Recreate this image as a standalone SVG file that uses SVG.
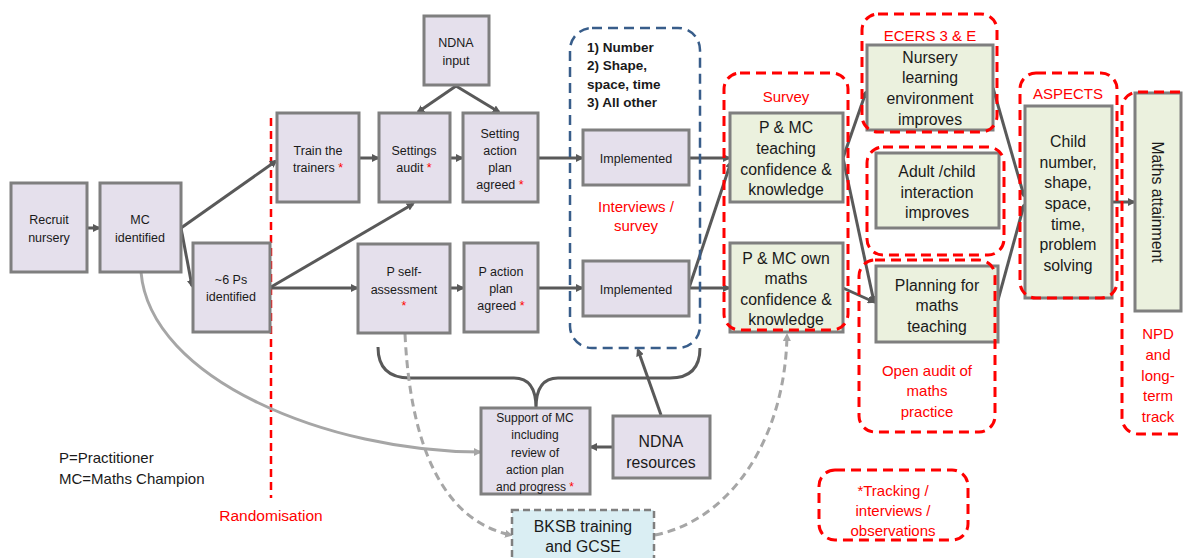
<svg xmlns="http://www.w3.org/2000/svg" width="1183" height="558" viewBox="0 0 1183 558">
<style>
.p{fill:#E5E0EC;stroke:#7F7F7F;stroke-width:3}
.g{fill:#EBF1DE;stroke:#7F7F7F;stroke-width:3}
.b{fill:#DAEEF3;stroke:#7F7F7F;stroke-width:2.5;stroke-dasharray:7 4}
text{font-family:"Liberation Sans",Arial,sans-serif;fill:#1a1a1a;text-anchor:middle}
.s{font-size:12.5px}
.m{font-size:15.8px}
.r{fill:#FF0000}
.rt{fill:#FF0000;font-size:15px}
.rd{fill:none;stroke:#FF0000;stroke-width:3;stroke-dasharray:10 6}
.bd{fill:none;stroke:#385D8A;stroke-width:2.5;stroke-dasharray:10 6}
.c{fill:none;stroke:#595959;stroke-width:3}
.lc{fill:none;stroke:#A6A6A6;stroke-width:3}
.dc{fill:none;stroke:#A6A6A6;stroke-width:3;stroke-dasharray:8 5}
.bold{font-weight:bold;text-anchor:start;font-size:13.5px}
</style>
<defs>
<marker id="a" markerWidth="8" markerHeight="8" refX="6" refY="4" orient="auto" markerUnits="userSpaceOnUse"><path d="M0,0 L8,4 L0,8 z" fill="#595959"/></marker>
<marker id="al" markerWidth="8" markerHeight="8" refX="6" refY="4" orient="auto" markerUnits="userSpaceOnUse"><path d="M0,0 L8,4 L0,8 z" fill="#A6A6A6"/></marker>
</defs>
<rect width="1183" height="558" fill="#fff"/>

<g id="randomisation">
<line x1="271" y1="118" x2="271" y2="498" stroke="#FF0000" stroke-width="2.5" stroke-dasharray="8 5"/>
<text x="271" y="521" class="rt" style="font-size:15.5px">Randomisation</text>
</g>

<g id="connectors">
<line class="c" x1="87" y1="228" x2="99" y2="228" marker-end="url(#a)"/>
<line class="c" x1="181" y1="228" x2="276" y2="161" marker-end="url(#a)"/>
<line class="c" x1="181" y1="228" x2="192" y2="286" marker-end="url(#a)"/>
<line class="c" x1="271" y1="287" x2="413" y2="204" marker-end="url(#a)"/>
<line class="c" x1="271" y1="288" x2="357" y2="288" marker-end="url(#a)"/>
<line class="c" x1="359" y1="158" x2="378" y2="158" marker-end="url(#a)"/>
<line class="c" x1="450" y1="158" x2="462" y2="158" marker-end="url(#a)"/>
<line class="c" x1="456" y1="86" x2="418" y2="112" marker-end="url(#a)"/>
<line class="c" x1="456" y1="86" x2="499" y2="112" marker-end="url(#a)"/>
<line class="c" x1="538" y1="158" x2="582" y2="158" marker-end="url(#a)"/>
<line class="c" x1="450" y1="288" x2="463" y2="288" marker-end="url(#a)"/>
<line class="c" x1="538" y1="288" x2="582" y2="288" marker-end="url(#a)"/>
<line class="c" x1="689" y1="158" x2="729" y2="158" marker-end="url(#a)"/>
<line class="c" x1="689" y1="288" x2="731" y2="162" marker-end="url(#a)"/>
<line class="c" x1="689" y1="288" x2="729" y2="288" marker-end="url(#a)"/>
<line class="c" x1="843" y1="158" x2="866" y2="92" marker-end="url(#a)"/>
<line class="c" x1="843" y1="158" x2="874" y2="302" marker-end="url(#a)"/>
<line class="c" x1="843" y1="288" x2="874" y2="302" marker-end="url(#a)"/>
<line class="c" x1="993" y1="88" x2="1024" y2="196" marker-end="url(#a)"/>
<line class="c" x1="998" y1="300" x2="1024" y2="205" marker-end="url(#a)"/>
<line class="c" x1="1112" y1="202" x2="1134" y2="202" marker-end="url(#a)"/>
<line class="c" x1="613" y1="447" x2="591" y2="447" marker-end="url(#a)"/>
<line class="c" x1="661" y1="415" x2="638" y2="350" marker-end="url(#a)"/>
<path class="c" stroke="#7F7F7F" d="M378,347 Q378,378 410,378 L514,378 Q536,378 536,408 M700,348 Q700,378 670,378 L558,378 Q536,378 536,408"/>
<path class="lc" d="M141,272 C150,380 330,452 480,452" marker-end="url(#al)"/>
<path class="dc" d="M405,334 C410,440 440,520 511,535" marker-end="url(#al)"/>
<path class="dc" d="M655,535 C730,520 785,440 787,335" marker-end="url(#al)"/>
</g>

<g id="recruit"><rect class="p" x="11" y="183" width="76" height="89"/><text class="s" x="49" y="224">Recruit</text><text class="s" x="49" y="242">nursery</text></g>
<g id="mc"><rect class="p" x="100" y="183" width="81" height="89"/><text class="s" x="140" y="224">MC</text><text class="s" x="140" y="242">identified</text></g>
<g id="ps"><rect class="p" x="193" y="243" width="77" height="89"/><text class="s" x="231" y="284">~6 Ps</text><text class="s" x="231" y="301">identified</text></g>
<g id="train"><rect class="p" x="277" y="113" width="82" height="89"/><text class="s" x="318" y="155">Train the</text><text class="s" x="318" y="172">trainers <tspan class="r">*</tspan></text></g>
<g id="audit"><rect class="p" x="379" y="113" width="71" height="89"/><text class="s" x="414" y="155">Settings</text><text class="s" x="414" y="172">audit <tspan class="r">*</tspan></text></g>
<g id="splan"><rect class="p" x="463" y="113" width="75" height="89"/><text class="s" x="500" y="138">Setting</text><text class="s" x="500" y="155">action</text><text class="s" x="500" y="172">plan</text><text class="s" x="500" y="189">agreed <tspan class="r">*</tspan></text></g>
<g id="ndnainput"><rect class="p" x="424" y="16" width="65" height="69"/><text class="s" x="456" y="47">NDNA</text><text class="s" x="456" y="65">input</text></g>
<g id="pself"><rect class="p" x="358" y="244" width="92" height="89"/><text class="s" x="404" y="276">P self-</text><text class="s" x="404" y="294">assessment</text><text class="s r" x="404" y="310">*</text></g>
<g id="paction"><rect class="p" x="464" y="243" width="74" height="89"/><text class="s" x="501" y="276">P action</text><text class="s" x="501" y="293">plan</text><text class="s" x="501" y="310">agreed <tspan class="r">*</tspan></text></g>
<g id="impl1"><rect class="p" x="583" y="130" width="106" height="55"/><text class="s" x="636" y="163">Implemented</text></g>
<g id="impl2"><rect class="p" x="583" y="261" width="106" height="55"/><text class="s" x="636" y="294">Implemented</text></g>
<g id="support"><rect class="p" x="481" y="408" width="109" height="86"/><text class="s" x="535" y="422" style="font-size:12px">Support of MC</text><text class="s" x="535" y="439" style="font-size:12px">including</text><text class="s" x="535" y="457" style="font-size:12px">review of</text><text class="s" x="535" y="474" style="font-size:12px">action plan</text><text class="s" x="535" y="491" style="font-size:12px">and progress <tspan class="r">*</tspan></text></g>
<g id="ndnares"><rect class="p" x="613" y="416" width="97" height="62"/><text class="m" x="661" y="447">NDNA</text><text class="m" x="661" y="468">resources</text></g>
<g id="bksb"><rect class="b" x="512" y="510" width="142" height="52"/><text class="m" x="583" y="532">BKSB training</text><text class="m" x="583" y="552">and GCSE</text></g>

<g id="teach"><rect class="g" x="730" y="113" width="113" height="89"/><text class="m" x="786" y="133">P &amp; MC</text><text class="m" x="786" y="154">teaching</text><text class="m" x="786" y="175">confidence &amp;</text><text class="m" x="786" y="195">knowledge</text></g>
<g id="own"><rect class="g" x="730" y="243" width="113" height="89"/><text class="m" x="786" y="264">P &amp; MC own</text><text class="m" x="786" y="284">maths</text><text class="m" x="786" y="305">confidence &amp;</text><text class="m" x="786" y="325">knowledge</text></g>
<g id="nursery"><rect class="g" x="867" y="45" width="126" height="85"/><text class="m" x="930" y="63">Nursery</text><text class="m" x="930" y="83">learning</text><text class="m" x="930" y="104">environment</text><text class="m" x="930" y="125">improves</text></g>
<g id="adult"><rect class="g" x="876" y="153" width="123" height="75"/><text class="m" x="937" y="177">Adult /child</text><text class="m" x="937" y="198">interaction</text><text class="m" x="937" y="218">improves</text></g>
<g id="planning"><rect class="g" x="876" y="266" width="122" height="76"/><text class="m" x="937" y="291">Planning for</text><text class="m" x="937" y="311">maths</text><text class="m" x="937" y="332">teaching</text></g>
<g id="child"><rect class="g" x="1025" y="106" width="87" height="192"/><text class="m" x="1068" y="147">Child</text><text class="m" x="1068" y="168">number,</text><text class="m" x="1068" y="188">shape,</text><text class="m" x="1068" y="209">space,</text><text class="m" x="1068" y="230">time,</text><text class="m" x="1068" y="250">problem</text><text class="m" x="1068" y="271">solving</text></g>
<g id="attain"><rect class="g" x="1135" y="93" width="46" height="218"/><text class="m" transform="translate(1152,202) rotate(90)" x="0" y="0">Maths attainment</text></g>

<g id="groups">
<rect class="bd" x="570" y="28" width="130" height="320" rx="22"/>
<text class="bold" x="587" y="52">1) Number</text>
<text class="bold" x="587" y="70">2) Shape,</text>
<text class="bold" x="587" y="89">space, time</text>
<text class="bold" x="587" y="107">3) All other</text>
<text class="rt" x="636" y="212">Interviews /</text>
<text class="rt" x="636" y="231">survey</text>
<rect class="rd" x="724" y="73" width="124" height="257" rx="16"/>
<text class="rt" x="786" y="102">Survey</text>
<rect class="rd" x="862" y="14" width="135" height="118" rx="16"/>
<text class="rt" x="930" y="41">ECERS 3 &amp; E</text>
<rect class="rd" x="867" y="147" width="137" height="108" rx="16"/>
<rect class="rd" x="859" y="260" width="136" height="172" rx="16"/>
<text class="rt" x="927" y="376">Open audit of</text>
<text class="rt" x="927" y="396">maths</text>
<text class="rt" x="927" y="417">practice</text>
<rect class="rd" x="1020" y="73" width="97" height="225" rx="16"/>
<text class="rt" x="1068" y="99">ASPECTS</text>
<rect class="rd" x="1122" y="92" width="80" height="342" rx="16"/>
<text class="rt" x="1158" y="339">NPD</text>
<text class="rt" x="1158" y="360">and</text>
<text class="rt" x="1158" y="381">long-</text>
<text class="rt" x="1158" y="401">term</text>
<text class="rt" x="1158" y="422">track</text>
<rect class="rd" x="819" y="470" width="149" height="70" rx="16"/>
<text class="rt" x="893" y="496">*Tracking /</text>
<text class="rt" x="893" y="516">interviews /</text>
<text class="rt" x="893" y="536">observations</text>
</g>

<g id="legend">
<text x="59" y="463" style="text-anchor:start;font-size:15px">P=Practitioner</text>
<text x="59" y="484" style="text-anchor:start;font-size:15px">MC=Maths Champion</text>
</g>
</svg>
